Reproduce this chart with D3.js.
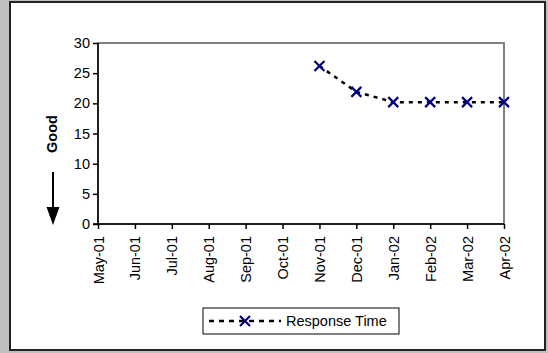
<!DOCTYPE html>
<html><head><meta charset="utf-8">
<script src="https://cdn.jsdelivr.net/npm/d3@7"></script>
<style>body{margin:0;background:#c0c0c0;}svg{display:block;font-family:"Liberation Sans",Arial,sans-serif;}</style>
</head><body>
<svg id="c" width="548" height="353"></svg>
<script>
const months = ["May-01","Jun-01","Jul-01","Aug-01","Sep-01","Oct-01","Nov-01","Dec-01","Jan-02","Feb-02","Mar-02","Apr-02"];
const responseTime = [null,null,null,null,null,null,26.2,21.9,20.2,20.2,20.2,20.2];
const yTicks = [0,5,10,15,20,25,30];
const seriesName = "Response Time";
const FF = "'Liberation Sans',Arial,sans-serif";
const FS = 14.5;

const svg = d3.select("#c");
svg.append("rect").attr("x",0).attr("y",0).attr("width",548).attr("height",353).attr("fill","#c0c0c0");
svg.append("rect").attr("x",10).attr("y",2).attr("width",535).attr("height",348).attr("fill","#fff").attr("stroke","#222").attr("stroke-width",2);

const L=98,R=504,T=43,B=224;
const x = d3.scalePoint().domain(months).range([L,R]);
const y = d3.scaleLinear().domain([0,30]).range([B,T]);

svg.append("rect").attr("x",L).attr("y",T).attr("width",R-L).attr("height",B-T).attr("fill","none").attr("stroke","#808080").attr("stroke-width",2);

const ya = svg.append("g").attr("transform",`translate(${L},0)`).call(d3.axisLeft(y).tickValues(yTicks).tickSize(5).tickPadding(3));
ya.selectAll("path,line").attr("stroke","#000").attr("stroke-width",1.5);
ya.selectAll("text").attr("font-size",FS).attr("fill","#000").attr("font-family",FF);
ya.select(".domain").attr("d",`M-5,${B}H0V${T}`);

const xa = svg.append("g").attr("transform",`translate(0,${B})`).call(d3.axisBottom(x).tickSize(5).tickPadding(3));
xa.selectAll("path,line").attr("stroke","#000").attr("stroke-width",1.5);
xa.select(".domain").attr("d",`M${L},0H${R}`);
xa.selectAll("text").attr("font-size",FS).attr("fill","#000").attr("font-family",FF)
  .attr("transform","rotate(-90)").attr("text-anchor","end").attr("x",-12).attr("y",0).attr("dy","0.35em");

svg.append("text").attr("transform","translate(57,134) rotate(-90)").attr("text-anchor","middle").attr("font-weight","bold").attr("font-family",FF).attr("font-size",FS).text("Good");
svg.append("line").attr("x1",53).attr("x2",53).attr("y1",172).attr("y2",210).attr("stroke","#000").attr("stroke-width",2);
svg.append("path").attr("d","M46.5,207L59.5,207L53,225Z").attr("fill","#000");

const pts = months.map((m,i)=>({m,v:responseTime[i]})).filter(d=>d.v!=null);
const line = d3.line().x(d=>x(d.m)).y(d=>y(d.v));
svg.append("path").datum(pts).attr("d",line).attr("fill","none").attr("stroke","#000").attr("stroke-width",2.5).attr("stroke-dasharray","4,5");

function cross(g,cx,cy){
  const s=5;
  g.append("path").attr("d",`M${cx-s},${cy-s}L${cx+s},${cy+s}M${cx-s},${cy+s}L${cx+s},${cy-s}`).attr("stroke","#000080").attr("stroke-width",2.2).attr("fill","none");
}
pts.forEach(d=>cross(svg,x(d.m),y(d.v)));

const lg = svg.append("g");
lg.append("rect").attr("x",203).attr("y",308).attr("width",196).attr("height",26).attr("fill","#fff").attr("stroke","#000").attr("stroke-width",1);
lg.append("line").attr("x1",209).attr("x2",281).attr("y1",321).attr("y2",321).attr("stroke","#000").attr("stroke-width",2.5).attr("stroke-dasharray","5,5");
cross(lg,245,321);
lg.append("text").attr("x",286).attr("y",326).attr("font-size",FS).attr("font-family",FF).text(seriesName);
</script>
</body></html>
